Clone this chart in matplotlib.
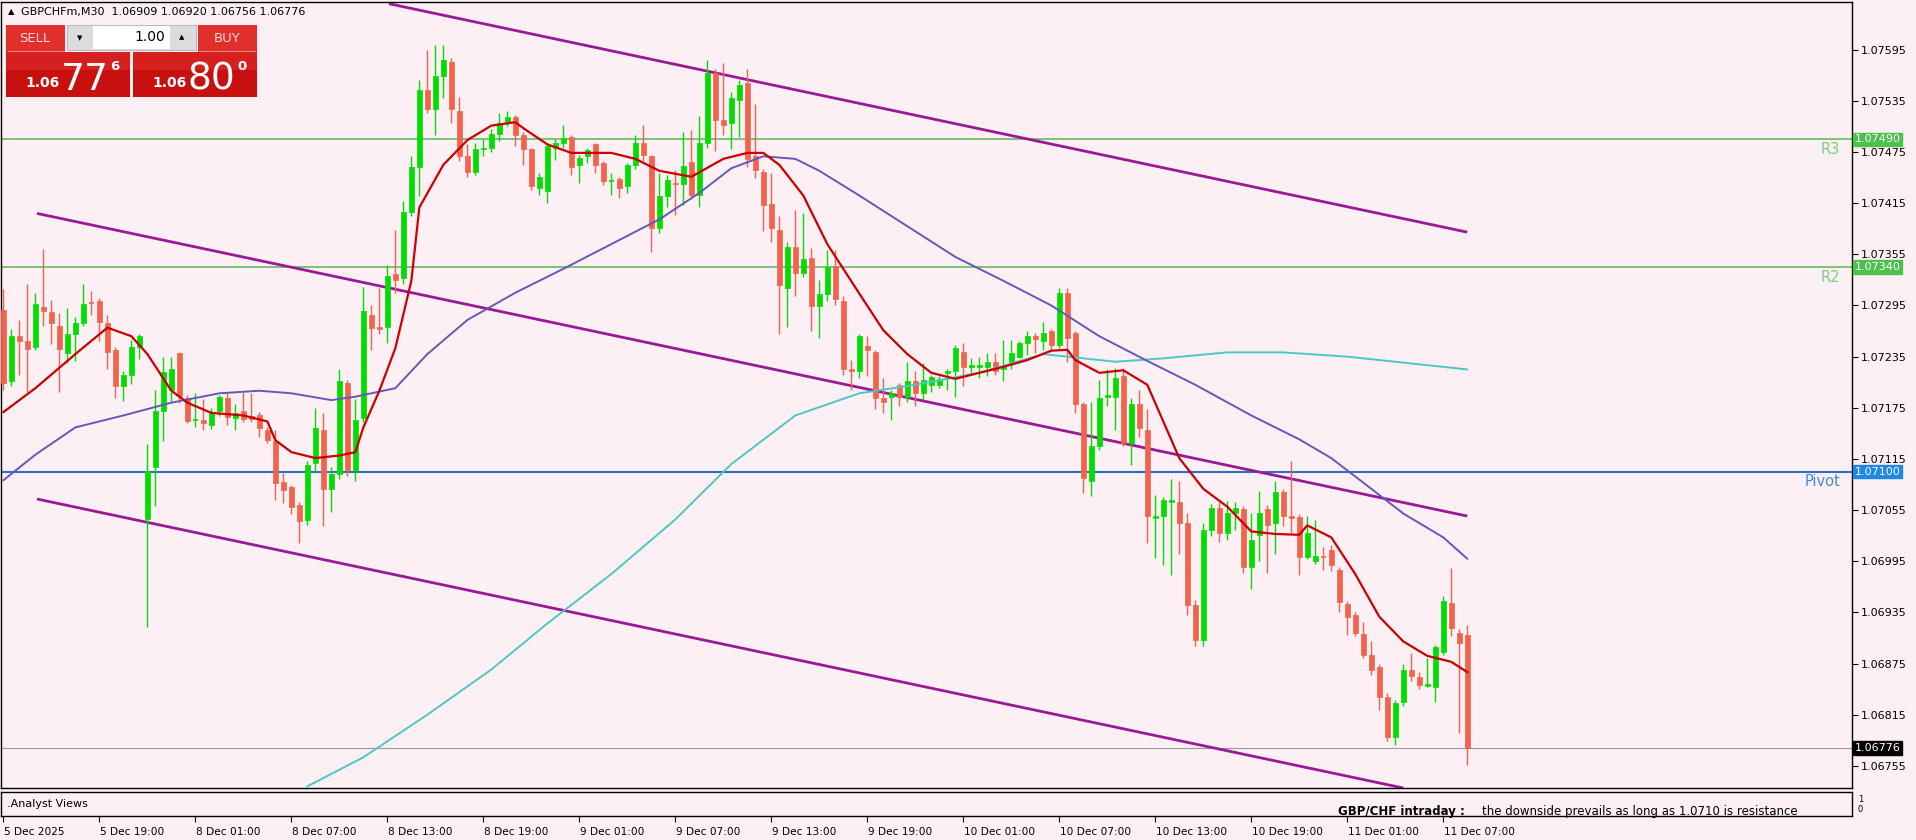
import matplotlib
matplotlib.use("Agg")
import matplotlib.pyplot as plt
from matplotlib.patches import Rectangle
import numpy as np

BASE = 1.07
SCALE = 1e5  # values in points above 1.07000

opens = [290,206,259,253,246,293,287,271,239,262,275,298,300,275,243,200,213,246,45,105,
171,196,239,187,161,161,155,171,186,163,171,165,167,149,136,88,82,61,43,110,
149,80,97,204,102,163,284,270,270,332,327,405,458,548,525,564,581,523,470,452,
478,480,496,509,516,495,478,433,429,480,486,493,460,470,484,462,441,443,435,460,
486,470,386,423,439,437,463,425,486,568,513,509,536,556,470,452,414,384,315,364,
333,351,294,308,341,300,220,218,247,241,186,188,202,188,207,192,202,202,216,218,
241,223,223,223,229,220,229,235,251,259,253,265,249,310,263,179,89,130,188,188,
212,134,180,149,46,48,65,65,40,-56,-97,32,57,28,52,56,-12,26,56,40,
76,48,47,0,-5,1,8,-15,-55,-68,-90,-115,-129,-164,-211,-170,-133,-141,-151,-152,
-111,-54,-89,-91]
closes = [204,259,253,244,297,289,274,244,262,275,297,297,276,241,201,213,246,259,101,171,
217,220,189,159,161,157,169,188,164,169,162,162,151,137,87,78,59,42,108,151,
80,97,207,102,161,288,269,267,330,325,405,458,548,525,564,583,525,470,452,478,
480,496,509,516,495,478,435,446,482,486,492,457,468,477,460,441,442,433,460,486,
472,386,423,442,437,459,425,486,568,513,507,538,554,467,454,413,386,319,364,333,
349,294,308,340,303,220,218,259,243,186,182,192,188,206,192,208,211,209,218,245,
223,225,225,229,218,223,239,251,259,256,263,249,310,257,180,93,130,186,190,210,
134,180,151,48,48,67,67,40,-56,-97,32,57,28,52,57,-12,20,52,38,76,
48,46,0,28,1,0,-9,-53,-70,-89,-115,-133,-164,-211,-171,-132,-140,-150,-149,-106,
-52,-83,-101,-224]
highs = [314,267,278,320,310,361,302,286,292,281,320,312,304,284,246,218,255,262,132,196,
234,235,241,190,192,185,175,190,192,179,194,192,170,152,149,99,85,64,112,175,
169,106,220,208,185,317,296,315,343,384,417,470,560,595,601,601,585,540,484,486,
490,502,521,523,519,498,480,450,485,490,507,495,472,480,486,464,450,446,462,495,
507,472,450,448,454,499,501,517,583,572,579,545,560,572,531,455,450,400,370,407,
403,362,325,360,360,306,231,262,259,243,210,196,204,229,218,227,214,212,220,249,
251,233,235,239,239,255,255,253,265,263,276,268,315,315,265,182,182,208,220,222,
222,186,196,173,73,70,91,89,52,-50,40,62,65,66,65,60,51,77,61,89,
80,112,50,48,43,12,14,-12,-52,-64,-76,-99,-125,-160,-168,-125,-113,-135,-119,-103,
-46,-13,-85,-80]
lows = [196,200,214,194,243,271,250,194,228,230,271,284,253,220,187,183,203,232,-82,60,
136,181,181,157,153,149,150,165,155,149,158,158,141,134,67,63,50,16,38,100,
36,53,92,95,89,158,243,261,251,310,320,400,423,521,495,538,509,464,446,448,
470,475,488,505,482,460,430,425,415,466,480,448,439,462,450,436,425,421,427,455,
465,358,380,411,401,413,420,411,480,476,495,478,493,458,444,382,370,261,270,306,
328,265,257,300,296,214,196,210,212,173,169,161,177,182,177,184,194,198,196,188,
200,214,210,212,214,206,220,233,237,239,243,241,245,229,169,75,71,125,177,149,
130,108,141,16,-1,-9,-21,3,-68,-105,-105,25,18,20,32,-19,-37,-5,-19,3,
36,28,-21,-2,-8,-15,-17,-64,-91,-93,-118,-139,-179,-216,-220,-175,-145,-155,-153,-170,
-115,-93,-207,-244]

# moving averages (bar index, value)
ma_fast_x = [0,4,9,13,16,18,21,23,26,30,33,34,36,39,42,44,45,47,49,51,52,55,58,61,64,65,68,71,76,79,82,86,90,93,95,97,100,103,107,110,113,116,119,122,125,128,131,133,134,137,140,143,145,147,150,153,156,159,162,163,166,169,172,175,178,181,183]
ma_fast_v = [170,198,238,269,259,238,195,181,169,166,159,137,123,116,119,123,152,195,245,324,410,460,489,506,510,503,484,474,474,467,453,446,467,474,474,460,424,367,309,266,238,216,209,216,223,231,242,243,231,216,219,202,159,116,80,59,30,27,26,37,23,-20,-70,-99,-116,-123,-135]
ma_mid_x = [0,4,9,15,21,27,32,36,41,44,49,53,58,64,70,76,82,87,91,95,99,102,107,113,119,125,131,137,143,149,156,162,166,171,175,180,183]
ma_mid_v = [90,120,152,166,181,192,195,192,184,188,198,238,278,310,338,367,396,427,456,470,467,453,424,388,352,324,295,259,230,202,166,138,116,80,51,23,-2]
ma_slow_x = [38,45,53,61,68,76,84,91,99,107,114,122,130,139,145,153,160,168,175,183]
ma_slow_v = [-269,-235,-185,-132,-78,-20,44,109,166,192,202,216,238,229,233,240,240,235,228,220]

channel_upper = ([48.2, 183], [649, 381])
channel_mid = ([4.2, 183], [403, 48])
channel_low = ([4.2, 175], [68, -271])

levels = {"R3": 490, "R2": 340, "Pivot": 100}
last_price = -224
yticks_v = [595, 535, 475, 415, 355, 295, 235, 175, 115, 55, -5, -65, -125, -185, -245]
time_labels = ["5 Dec 2025", "5 Dec 19:00", "8 Dec 01:00", "8 Dec 07:00", "8 Dec 13:00",
               "8 Dec 19:00", "9 Dec 01:00", "9 Dec 07:00", "9 Dec 13:00", "9 Dec 19:00",
               "10 Dec 01:00", "10 Dec 07:00", "10 Dec 13:00", "10 Dec 19:00",
               "11 Dec 01:00", "11 Dec 07:00"]
time_idx = [0] + [12 * k for k in range(1, 16)]

W, H = 1916, 840
BG = "#FDF0F4"
GREEN = "#00DD00"
RED = "#F0644E"

fig = plt.figure(figsize=(W / 100, H / 100), dpi=100, facecolor=BG)

def fr(x0, y0, x1, y1):
    return [x0 / W, 1 - y1 / H, (x1 - x0) / W, (y1 - y0) / H]

XMIN, XMAX = -0.3, 231.1
ax = fig.add_axes(fr(1, 2, 1852, 788))
ax.set_facecolor(BG)
ax.set_xlim(XMIN, XMAX)
ax.set_ylim(-271, 651)

# candles
for i in range(len(closes)):
    o, c, h, l = opens[i], closes[i], highs[i], lows[i]
    col = GREEN if c >= o else RED
    ax.vlines(i, l, h, color=col, lw=1.0, zorder=3)
    bot, top = min(o, c), max(o, c)
    if top - bot < 2:
        ax.hlines((o + c) / 2, i - 0.32, i + 0.32, color=col, lw=1.2, zorder=3)
    else:
        ax.add_patch(Rectangle((i - 0.32, bot), 0.64, top - bot, facecolor=col,
                               edgecolor=col, lw=0.5, zorder=3))

# levels
ax.axhline(levels["R3"], color="#66BB66", lw=1.2, zorder=1)
ax.axhline(levels["R2"], color="#66BB66", lw=1.2, zorder=1)
ax.axhline(levels["Pivot"], color="#2A72C0", lw=1.5, zorder=1)
ax.axhline(last_price, color="#999999", lw=0.8, zorder=1)

# channels
for cx, cy in (channel_upper, channel_mid, channel_low):
    ax.plot(cx, cy, color="#9A1A96", lw=2.0, zorder=2, solid_capstyle="butt")

# MAs
ax.plot(ma_slow_x, ma_slow_v, color="#4CC8C4", lw=1.4, zorder=4)
ax.plot(ma_mid_x, ma_mid_v, color="#6458B8", lw=1.4, zorder=4)
ax.plot(ma_fast_x, ma_fast_v, color="#CC0000", lw=1.6, zorder=5)

# level labels inside chart
for name, col in (("R3", "#7CCF7C"), ("R2", "#7CCF7C"), ("Pivot", "#3A8CD8")):
    ax.text(229.6, levels[name] - 3, name, color=col, fontsize=10.5, ha="right",
            va="top", zorder=6)

# right axis
ax.yaxis.tick_right()
ax.set_yticks(yticks_v)
ax.set_yticklabels([f"{BASE + v / SCALE:.5f}" for v in yticks_v], fontsize=8)
ax.tick_params(axis="y", length=4, width=0.8, pad=2, colors="black")
ax.set_xticks([])
for s in ax.spines.values():
    s.set_color("black")
    s.set_linewidth(1.0)

# tags
def tag(v, txt, bg, fg="white"):
    ax.text(1.0015, v, txt, transform=ax.get_yaxis_transform(), fontsize=8, color=fg,
            va="center", ha="left", zorder=10, clip_on=False,
            bbox=dict(boxstyle="square,pad=0.15", facecolor=bg, edgecolor=bg))

tag(levels["R3"], "1.07490", "#4CC24C")
tag(levels["R2"], "1.07340", "#4CC24C")
tag(levels["Pivot"], "1.07100", "#1E88E5")
tag(last_price, "1.06776", "black")

# sub window
ax2 = fig.add_axes(fr(1, 792, 1852, 816))
ax2.set_facecolor(BG)
ax2.set_xlim(XMIN, XMAX)
ax2.set_ylim(0, 1)
ax2.set_yticks([])
ax2.set_xticks(time_idx)
ax2.set_xticklabels([""] * len(time_idx))
ax2.tick_params(axis="x", length=4, width=0.8, colors="black")
for s in ax2.spines.values():
    s.set_color("black")
    s.set_linewidth(1.0)
ax2.text(0.003, 0.5, ".Analyst Views", transform=ax2.transAxes, fontsize=8,
         va="center", ha="left")
for t, i in zip(time_labels, time_idx):
    ax2.text(i + 0.1, -0.45, t, fontsize=7.6, ha="left", va="top", clip_on=False)

# overlay
ov = fig.add_axes([0, 0, 1, 1], zorder=20)
ov.set_xlim(0, W)
ov.set_ylim(H, 0)
ov.axis("off")
ov.patch.set_alpha(0)

ov.text(1338, 812, "GBP/CHF intraday :", fontsize=8.5, fontweight="bold", ha="left", va="center")
ov.text(1482, 812, "the downside prevails as long as 1.0710 is resistance", fontsize=8.5,
        ha="left", va="center")
ov.text(1858, 800, "1", fontsize=6, ha="left", va="center")
ov.text(1858, 810, "0", fontsize=6, ha="left", va="center")

ov.text(8, 12, "\u25B2", fontsize=6, ha="left", va="center")
ov.text(21, 12, "GBPCHFm,M30  1.06909 1.06920 1.06756 1.06776", fontsize=8, ha="left",
        va="center")

# trade panel
ov.add_patch(Rectangle((6, 25), 59, 27, facecolor="#E0302C", edgecolor="none"))
ov.add_patch(Rectangle((198, 25), 59, 27, facecolor="#E0302C", edgecolor="none"))
ov.add_patch(Rectangle((67, 25), 129, 25, facecolor="#DCDCDC", edgecolor="#BBBBBB", lw=0.8))
ov.add_patch(Rectangle((93, 26), 77, 23, facecolor="white", edgecolor="none"))
for x0 in (6, 133):
    ov.add_patch(Rectangle((x0, 52), 124, 45, facecolor="#C8100E", edgecolor="none"))
    ov.add_patch(Rectangle((x0, 52), 124, 18, facecolor="#D62020", edgecolor="none"))
ov.plot([8, 64], [51, 51], color="#F08080", lw=0.8)
ov.plot([199, 255], [51, 51], color="#F08080", lw=0.8)
ov.text(35, 38, "SELL", fontsize=9.5, color="#FFD6D6", ha="center", va="center")
ov.text(227, 38, "BUY", fontsize=9.5, color="#FFD6D6", ha="center", va="center")
ov.text(165, 37, "1.00", fontsize=10, color="black", ha="right", va="center")
ov.text(80, 38, "\u25BC", fontsize=5, ha="center", va="center")
ov.text(182, 37, "\u25B2", fontsize=5, ha="center", va="center")
for x0, big, sup in ((6, "77", "6"), (133, "80", "0")):
    ov.text(x0 + 19, 83, "1.06", fontsize=10, fontweight="bold", color="white",
            ha="left", va="center")
    ov.text(x0 + 55, 90, big, fontsize=27, color="white", ha="left", va="baseline")
    ov.text(x0 + 104, 66, sup, fontsize=9.5, fontweight="bold", color="white",
            ha="left", va="center")

fig.savefig("out.png", dpi=100, facecolor=BG)
